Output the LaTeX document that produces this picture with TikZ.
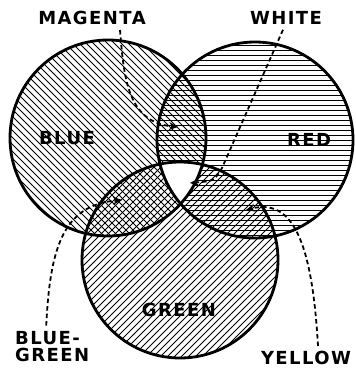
\documentclass[tikz,border=0pt]{standalone}
\usepackage{fontspec}
\newfontfamily\labfont[LetterSpace=8]{DejaVu Sans}
\usetikzlibrary{arrows.meta}
\begin{document}
\begin{tikzpicture}[x=1pt,y=-1pt,
  hatch/.style={line width=0.9pt},
  outline/.style={line width=2.8pt},
  lab/.style={font=\labfont\bfseries\fontsize{18}{17}\selectfont, inner sep=0pt},
  pointer/.style={line width=1.8pt, dash pattern=on 4.5pt off 3pt,
    -{Stealth[length=9pt,width=8pt]}}]
\useasboundingbox (0,0) rectangle (356,370);
\coordinate (B) at (108,138);
\coordinate (R) at (255,140);
\coordinate (G) at (180,260);
\def\rad{98pt}
% blue hatching
\begin{scope}
  \clip (B) circle[radius=\rad];
  \foreach \c in {-300,-293,...,300} \draw[hatch] (\c,0) -- ++(400,400);
\end{scope}
% red hatching
\begin{scope}
  \clip (R) circle[radius=\rad];
  \foreach \c in {40,45,...,245} \draw[hatch] (150,\c) -- (360,\c);
\end{scope}
% green hatching
\begin{scope}
  \clip (G) circle[radius=\rad];
  \foreach \c in {150,157,...,700} \draw[hatch] (\c,150) -- ++(-300,300);
\end{scope}
% white centre
\begin{scope}
  \clip (B) circle[radius=\rad];
  \clip (R) circle[radius=\rad];
  \fill[white] (G) circle[radius=\rad];
\end{scope}
% outlines
\draw[outline] (B) circle[radius=\rad];
\draw[outline] (R) circle[radius=\rad];
\draw[outline] (G) circle[radius=\rad];
% labels
\node[lab] (mag) at (92,18) {MAGENTA};
\node[lab] (wht) at (286,18) {WHITE};
\node[lab] (blu) at (67,138) {BLUE};
\node[lab] (red) at (309,140) {RED};
\node[lab] (grn) at (179,310) {GREEN};
\node[lab, align=left, anchor=west] (bg) at (15,347) {BLUE-\\GREEN};
\node[lab] (yel) at (306,358) {YELLOW};
% tips
\coordinate (mtip) at (178,127);
\coordinate (wtip) at (190,183);
\coordinate (bgtip) at (122,200);
\coordinate (ytip) at (246,210);
% pointers
\draw[pointer] ([xshift=28pt,yshift=-5pt]mag.south) .. controls (124,80) and (128,122) .. (mtip);
\draw[pointer] ([xshift=-3pt,yshift=-5pt]wht.south) -- (222,168) .. controls (214,181) .. (wtip);
\draw[pointer] ([xshift=-6pt,yshift=6pt]bg.north) .. controls (50,250) and (62,205) .. (bgtip);
\draw[pointer] ([xshift=12pt,yshift=5pt]yel.north) .. controls (312,240) and (292,198) .. (ytip);
\end{tikzpicture}
\end{document}
